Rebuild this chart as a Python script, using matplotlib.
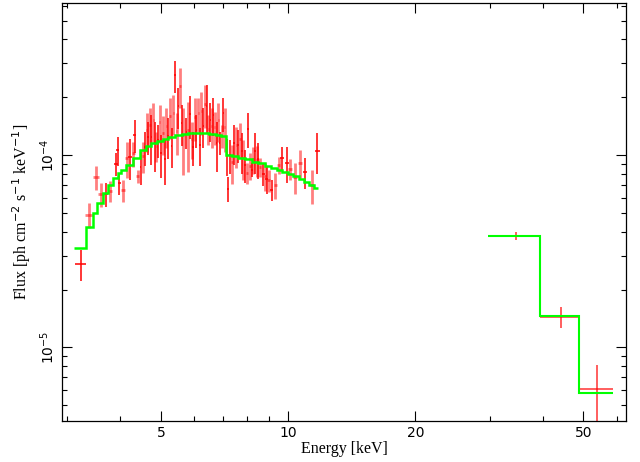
import numpy as np
import matplotlib.pyplot as plt
from matplotlib.ticker import FixedLocator, FixedFormatter, NullFormatter, LogLocator

# spectrum 1 (solid red crosses): energy [keV], half width, flux and error in 1e-4 ph/cm2/s/keV
e1 = [3.23, 3.70, 3.91, 3.95, 3.99, 4.23, 4.34,
      4.48, 4.59, 4.67, 4.75, 4.84, 4.92, 5.01, 5.11, 5.20, 5.30, 5.40, 5.50, 5.60,
      5.75, 5.86, 5.96, 6.07, 6.19, 6.30, 6.42, 6.54, 6.65, 6.78, 6.90, 7.03, 7.16,
      7.22, 7.29, 7.44, 7.62, 7.77, 7.91, 8.05, 8.20, 8.35, 8.50, 8.74, 8.91, 9.15,
      9.69, 9.93, 10.97, 11.73]
de1 = [0.095, 0.05, 0.04, 0.04, 0.04, 0.04, 0.035,
       0.02, 0.02, 0.02, 0.02, 0.02, 0.02, 0.02, 0.02, 0.02, 0.02, 0.02, 0.02, 0.02,
       0.02, 0.02, 0.02, 0.02, 0.02, 0.02, 0.02, 0.02, 0.02, 0.02, 0.02, 0.02, 0.02,
       0.04, 0.035, 0.035, 0.035, 0.035, 0.035, 0.035, 0.04, 0.04, 0.05, 0.07, 0.07, 0.08,
       0.10, 0.11, 0.13, 0.15]
f1 = np.array([0.272, 0.63, 0.90, 1.06, 0.715, 0.98, 1.27,
               0.87, 1.10, 1.24, 1.25, 1.15, 1.20, 1.02, 0.96, 1.26, 1.12, 2.60, 1.80, 1.47,
               1.32, 1.63, 1.10, 1.35, 1.13, 1.42, 1.81, 1.52, 1.62, 1.15, 1.16, 1.65, 1.00,
               0.67, 1.00, 1.16, 1.13, 1.05, 0.89, 1.37, 0.84, 1.05, 0.95, 0.80, 0.75, 0.66,
               0.97, 0.91, 0.82, 1.05]) * 1e-4
df1 = np.array([0.050, 0.09, 0.12, 0.18, 0.095, 0.24, 0.25,
                0.17, 0.22, 0.24, 0.36, 0.33, 0.23, 0.26, 0.26, 0.30, 0.26, 0.50, 0.43, 0.35,
                0.24, 0.41, 0.22, 0.26, 0.25, 0.33, 0.50, 0.35, 0.36, 0.33, 0.16, 0.33, 0.22,
                0.10, 0.20, 0.27, 0.22, 0.25, 0.17, 0.28, 0.07, 0.25, 0.20, 0.11, 0.12, 0.08,
                0.13, 0.19, 0.15, 0.25]) * 1e-4

# spectrum 2 (light red crosses)
e2 = [3.38, 3.51, 3.61, 3.79, 4.07, 4.15, 4.30, 4.41,
      4.53, 4.63, 4.71, 4.80, 4.88, 4.97, 5.06, 5.15, 5.26, 5.35, 5.45, 5.55, 5.65,
      5.80, 5.91, 6.02, 6.13, 6.24, 6.36, 6.47, 6.60, 6.71, 6.84, 6.97, 7.09,
      7.36, 7.55, 7.70, 7.84, 7.98, 8.13, 8.27, 8.43, 8.58, 8.82, 8.99, 9.32, 9.50,
      10.11, 10.39, 10.68, 11.38]
de2 = [0.07, 0.06, 0.05, 0.05, 0.04, 0.04, 0.035, 0.035,
       0.02, 0.02, 0.02, 0.02, 0.02, 0.02, 0.02, 0.02, 0.02, 0.02, 0.02, 0.02, 0.02,
       0.02, 0.02, 0.02, 0.02, 0.02, 0.02, 0.02, 0.02, 0.02, 0.02, 0.02, 0.02,
       0.035, 0.035, 0.035, 0.035, 0.04, 0.04, 0.04, 0.05, 0.06, 0.07, 0.07, 0.08, 0.09,
       0.11, 0.12, 0.13, 0.14]
f2 = np.array([0.49, 0.767, 0.626, 0.65, 0.656, 0.965, 1.02, 0.775,
               0.99, 1.35, 1.44, 1.52, 1.12, 1.49, 1.30, 1.42, 1.60, 1.66, 1.33, 2.29, 1.27,
               1.35, 1.22, 1.58, 1.65, 1.70, 1.85, 1.37, 1.42, 1.40, 1.52, 1.26, 1.40,
               0.92, 1.13, 1.22, 0.97, 0.81, 0.88, 0.95, 0.94, 0.87, 0.78, 0.74, 0.70, 0.89,
               0.85, 0.77, 0.91, 0.70]) * 1e-4
df2 = np.array([0.073, 0.11, 0.089, 0.08, 0.086, 0.20, 0.15, 0.06,
                0.18, 0.31, 0.31, 0.355, 0.20, 0.33, 0.30, 0.33, 0.38, 0.39, 0.33, 0.54, 0.48,
                0.53, 0.26, 0.40, 0.33, 0.42, 0.46, 0.24, 0.33, 0.27, 0.35, 0.17, 0.36,
                0.21, 0.27, 0.25, 0.23, 0.10, 0.14, 0.15, 0.17, 0.10, 0.13, 0.10, 0.11, 0.09,
                0.11, 0.14, 0.15, 0.14]) * 1e-4

# hard X-ray points
e3 = [34.6, 44.2, 53.8]
de3 = [4.8, 4.75, 4.8]
f3 = np.array([0.380, 0.144, 0.0606]) * 1e-4
df3 = np.array([0.017, 0.0175, 0.020]) * 1e-4

# folded model (step function)
m_edges = [3.12, 3.32, 3.45, 3.54, 3.64, 3.75, 3.86, 3.96, 4.03, 4.14, 4.30, 4.46,
           4.60, 4.75, 4.90, 5.05, 5.20, 5.40, 5.60, 5.80, 6.00, 6.25, 6.50, 6.75, 6.95, 7.13,
           7.35, 7.60, 7.90, 8.20, 8.50, 8.80, 9.10, 9.40, 9.70, 10.0, 10.3, 10.6, 10.9,
           11.2, 11.5, 11.8]
m_vals = np.array([0.328, 0.424, 0.50, 0.561, 0.632, 0.70, 0.757, 0.803, 0.836, 0.89, 0.97,
                   1.06, 1.11, 1.15, 1.19, 1.22, 1.25, 1.28, 1.295, 1.30, 1.305, 1.30, 1.29,
                   1.275, 1.255,
                   1.00, 0.985, 0.97, 0.95, 0.925, 0.905, 0.88, 0.86, 0.84, 0.82, 0.80, 0.775,
                   0.75, 0.725, 0.70, 0.675]) * 1e-4
mh_edges = [29.8, 39.4, 48.9, 58.6]
mh_vals = np.array([0.38, 0.146, 0.058]) * 1e-4

fig = plt.figure(figsize=(6.4, 4.62), dpi=100)
ax = fig.add_axes([0.097, 0.089, 0.881, 0.905])

ax.errorbar(e2, f2, xerr=de2, yerr=df2, fmt='none', ecolor='red', elinewidth=2.0, alpha=0.5, zorder=2)
ax.errorbar(e1, f1, xerr=de1, yerr=df1, fmt='none', ecolor='red', elinewidth=1.1, zorder=2)
ax.errorbar(e3, f3, xerr=de3, yerr=df3, fmt='none', ecolor='red', elinewidth=1.1, alpha=0.8, zorder=2)

ax.stairs(m_vals, m_edges, baseline=None, color='#00ff00', lw=1.8, zorder=3)
ax.stairs(mh_vals, mh_edges, baseline=None, color='#00ff00', lw=1.5, zorder=3)

ax.set_xscale('log')
ax.set_yscale('log')
ax.set_xlim(2.92, 63)
ax.set_ylim(4.15e-6, 6.2e-4)

ax.xaxis.set_major_locator(FixedLocator([5, 10, 20, 50]))
ax.xaxis.set_major_formatter(FixedFormatter(['5', '10', '20', '50']))
ax.xaxis.set_minor_locator(FixedLocator([3, 4, 6, 7, 8, 9, 30, 40, 60]))
ax.xaxis.set_minor_formatter(NullFormatter())
ax.yaxis.set_major_locator(FixedLocator([1e-5, 1e-4]))
ax.yaxis.set_major_formatter(FixedFormatter([r'$10^{-5}$', r'$10^{-4}$']))
ax.yaxis.set_minor_locator(LogLocator(base=10, subs=np.arange(2, 10)))
ax.yaxis.set_minor_formatter(NullFormatter())

ax.tick_params(which='both', direction='in', top=True, right=True, width=0.8, labelsize=10)
ax.tick_params(which='major', length=7)
ax.tick_params(which='minor', length=3.5)
for lab in ax.get_yticklabels():
    lab.set_rotation(90)
    lab.set_va('center')
for sp in ax.spines.values():
    sp.set_linewidth(0.9)

ax.set_xlabel('Energy [keV]', family='Liberation Serif', fontsize=11.5, labelpad=1)
ax.set_ylabel(r'Flux [ph cm$^{-2}$ s$^{-1}$ keV$^{-1}$]', family='Liberation Serif',
              fontsize=11.5, labelpad=4)

fig.savefig('out.png', dpi=100)
